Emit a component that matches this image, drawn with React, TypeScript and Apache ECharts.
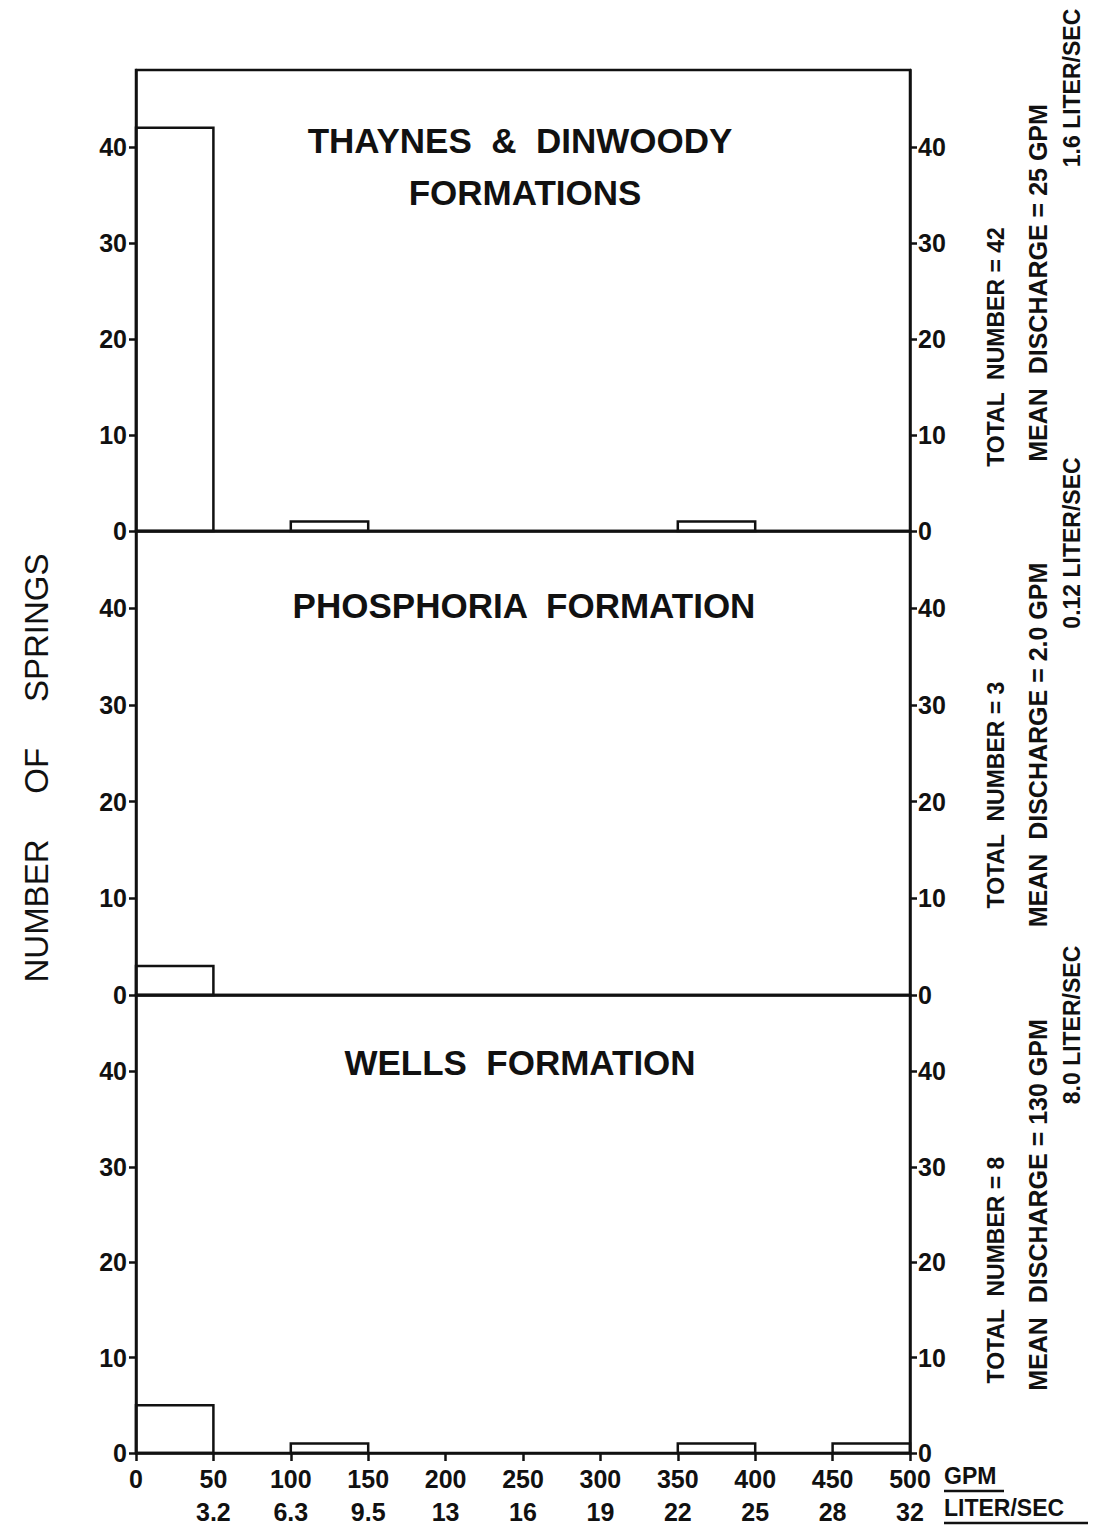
import React, { useEffect, useRef } from "react";
import * as echarts from "echarts";

// ---- data ----
const binStarts = [0, 50, 100, 150, 200, 250, 300, 350, 400, 450];
const binWidth = 50;
const thaynesCounts = [42, 0, 1, 0, 0, 0, 0, 1, 0, 0];
const phosphoriaCounts = [3, 0, 0, 0, 0, 0, 0, 0, 0, 0];
const wellsCounts = [5, 0, 1, 0, 0, 0, 0, 1, 0, 1];
const gpmTicks = [0, 50, 100, 150, 200, 250, 300, 350, 400, 450, 500];
const literTicks = ["", "3.2", "6.3", "9.5", "13", "16", "19", "22", "25", "28", "32"];
const yTicks = [0, 10, 20, 30, 40];
const panelTitles = [["THAYNES  &  DINWOODY", "FORMATIONS"], ["PHOSPHORIA  FORMATION"], ["WELLS  FORMATION"]];
const totalTexts = ["TOTAL  NUMBER = 42", "TOTAL  NUMBER = 3", "TOTAL  NUMBER = 8"];
const meanTexts = ["MEAN  DISCHARGE = 25 GPM", "MEAN  DISCHARGE = 2.0 GPM", "MEAN  DISCHARGE = 130 GPM"];
const literTexts = ["1.6 LITER/SEC", "0.12 LITER/SEC", "8.0 LITER/SEC"];

const FONT = "Liberation Sans";
const INK = "#111";

export default function App() {
  const ref = useRef<HTMLDivElement>(null);
  useEffect(() => {
    document.body.style.margin = "0";
    const chart = echarts.init(ref.current!, null, { renderer: "svg" });
    const left = 136;
    const width = 774;
    const tops = [70, 531, 995];
    const heights = [461, 464, 458];
    const allCounts = [thaynesCounts, phosphoriaCounts, wellsCounts];

    const grids = tops.map((t, i) => ({
      left,
      top: t,
      width,
      height: heights[i],
      show: true,
      borderColor: INK,
      borderWidth: 2.5,
      backgroundColor: "transparent",
    }));

    const xAxes = tops.map((_, i) => ({
      type: "value",
      gridIndex: i,
      min: 0,
      max: 500,
      interval: 50,
      axisLine: { show: true, onZero: false, lineStyle: { color: INK, width: 2.5 } },
      axisTick: i === 2 ? { show: true, length: 8, lineStyle: { color: INK, width: 2.5 } } : { show: false },
      splitLine: { show: false },
      axisLabel:
        i === 2
          ? {
              show: true,
              margin: 9,
              formatter: (v: number) => {
                const k = gpmTicks.indexOf(v);
                return `{a|${v}}\n{b|${k >= 0 ? literTicks[k] : ""}}`;
              },
              rich: {
                a: { fontFamily: FONT, fontWeight: "bold", fontSize: 25, color: INK, lineHeight: 33 },
                b: { fontFamily: FONT, fontWeight: "bold", fontSize: 25, color: INK, lineHeight: 33 },
              },
            }
          : { show: false },
    }));

    const yAxes: any[] = [];
    tops.forEach((_, i) => {
      ["left", "right"].forEach((pos) => {
        yAxes.push({
          type: "value",
          gridIndex: i,
          position: pos,
          min: 0,
          max: 48,
          interval: 10,
          axisLine: { show: true, lineStyle: { color: INK, width: 2.5 } },
          axisTick: { show: true, length: 7, customValues: yTicks, lineStyle: { color: INK, width: 2.5 } },
          axisLabel: {
            show: true,
            customValues: yTicks,
            margin: pos === "left" ? 9 : 8,
            fontFamily: FONT,
            fontWeight: "bold",
            fontSize: 25,
            color: INK,
          },
          splitLine: { show: false },
        });
      });
    });

    const series = allCounts.map((counts, i) => ({
      type: "custom",
      xAxisIndex: i,
      yAxisIndex: i * 2,
      data: binStarts.map((s, k) => [s, s + binWidth, counts[k]]),
      renderItem: (params: any, api: any) => {
        const c = api.value(2);
        if (!c) return null;
        const p0 = api.coord([api.value(0), c]);
        const p1 = api.coord([api.value(1), 0]);
        return {
          type: "rect",
          shape: { x: p0[0], y: p0[1], width: p1[0] - p0[0], height: p1[1] - p0[1] },
          style: { fill: "none", stroke: INK, lineWidth: 2.5 },
        };
      },
    }));

    const txt = (text: string, x: number, y: number, size: number, rot = 0, extra: any = {}) => ({
      type: "text",
      x,
      y,
      rotation: rot,
      style: {
        text,
        fontFamily: FONT,
        fontWeight: "bold",
        fontSize: size,
        fill: INK,
        align: "center",
        verticalAlign: "middle",
        ...extra,
      },
    });

    const graphics: any[] = [];
    // titles
    graphics.push(txt(panelTitles[0][0], 520, 140, 35));
    graphics.push(txt(panelTitles[0][1], 525, 192, 35));
    graphics.push(txt(panelTitles[1][0], 524, 605, 35));
    graphics.push(txt(panelTitles[2][0], 520, 1062, 35));
    // y axis title
    graphics.push(txt("NUMBER     OF     SPRINGS", 36, 768, 33, Math.PI / 2, { fontWeight: "normal" }));
    // right side annotations
    const totalCy = [347, 795, 1270];
    const meanCy = [283, 745, 1205];
    const literCy = [88, 543, 1025];
    for (let i = 0; i < 3; i++) {
      graphics.push(txt(totalTexts[i], 996, totalCy[i], 23, Math.PI / 2));
      graphics.push(txt(meanTexts[i], 1038, meanCy[i], 25, Math.PI / 2));
      graphics.push(txt(literTexts[i], 1072, literCy[i], 23, Math.PI / 2));
    }
    // unit labels
    graphics.push(txt("GPM", 944, 1476, 23, 0, { align: "left" }));
    graphics.push({ type: "line", shape: { x1: 944, y1: 1491, x2: 1004, y2: 1491 }, style: { stroke: INK, lineWidth: 2.5 } });
    graphics.push(txt("LITER/SEC", 944, 1508, 23, 0, { align: "left" }));
    graphics.push({ type: "line", shape: { x1: 944, y1: 1523, x2: 1088, y2: 1523 }, style: { stroke: INK, lineWidth: 2.5 } });

    chart.setOption({
      animation: false,
      backgroundColor: "#fff",
      grid: grids,
      xAxis: xAxes,
      yAxis: yAxes,
      series,
      graphic: graphics,
    });
    return () => chart.dispose();
  }, []);
  return <div ref={ref} style={{ width: 1093, height: 1529 }} />;
}
